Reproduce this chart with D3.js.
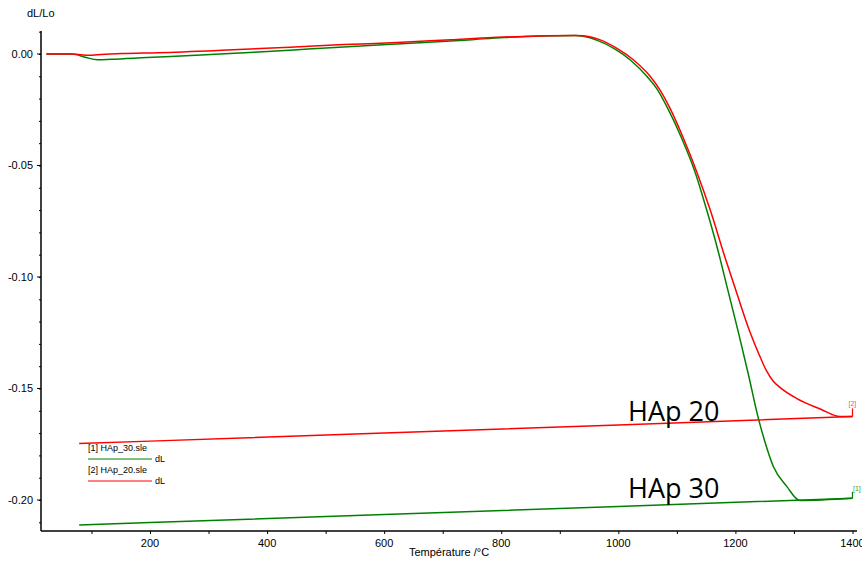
<!DOCTYPE html>
<html><head><meta charset="utf-8">
<script src="https://cdn.jsdelivr.net/npm/d3@7"></script>
<style>
html,body{margin:0;padding:0;background:#fff;}
svg{display:block;font-family:"Liberation Sans",Arial,sans-serif;}
</style></head>
<body>
<svg id="chart" width="862" height="561"></svg>
<script>
// ---------- data ----------
const xTicks = [200, 400, 600, 800, 1000, 1200, 1400];
const yTicks = [0, -0.05, -0.10, -0.15, -0.20];
const yTickLabels = ["0.00", "-0.05", "-0.10", "-0.15", "-0.20"];

// [2] HAp_20 (red) heating
const hap20HeatT = [23, 67, 97, 110, 152, 214, 342, 439, 531, 622, 714, 805, 866, 927, 940, 969, 997, 1026, 1054, 1071, 1088, 1111, 1134, 1157, 1182, 1202, 1225, 1240, 1253, 1264, 1276, 1305, 1345, 1379, 1400];
const hap20HeatV = [0, 0, -0.0006, -0.0003, 0.0002, 0.0006, 0.0019, 0.0030, 0.0042, 0.0051, 0.0064, 0.0076, 0.0081, 0.0083, 0.0082, 0.0063, 0.0026, -0.0027, -0.0099, -0.0161, -0.0242, -0.0377, -0.0529, -0.0700, -0.0910, -0.1070, -0.1248, -0.1345, -0.1420, -0.1465, -0.1495, -0.1545, -0.1592, -0.1626, -0.1626];
// [2] HAp_20 cooling
const hap20CoolT = [1400, 1000, 600, 200, 79];
const hap20CoolV = [-0.1626, -0.1664, -0.1700, -0.1736, -0.1747];
const hap20MarkV = [-0.1626, -0.1589];

// [1] HAp_30 (green) heating
const hap30HeatT = [23, 67, 91, 110, 133, 195, 287, 378, 470, 560, 622, 744, 805, 866, 927, 940, 964, 993, 1021, 1049, 1067, 1084, 1108, 1131, 1151, 1170, 1187, 1205, 1222, 1239, 1251, 1265, 1288, 1310, 1400];
const hap30HeatV = [0, 0, -0.0016, -0.0026, -0.0024, -0.0016, -0.0005, 0.0008, 0.0022, 0.0036, 0.0045, 0.0063, 0.0074, 0.0081, 0.0083, 0.0079, 0.0061, 0.0024, -0.0028, -0.0101, -0.0161, -0.0242, -0.0377, -0.0529, -0.0700, -0.0879, -0.1058, -0.1247, -0.1435, -0.1632, -0.1744, -0.1851, -0.1940, -0.2002, -0.1992];
// [1] HAp_30 cooling
const hap30CoolT = [1400, 1000, 600, 200, 79];
const hap30CoolV = [-0.1992, -0.2029, -0.2065, -0.2101, -0.2112];
const hap30MarkV = [-0.1992, -0.1963];

const markT = 1400;
const legendItems = ["[1] HAp_30.sle", "[2] HAp_20.sle"];
const annotLabels = ["HAp 20", "HAp 30"];
const annotPos = [[1000, -0.1647], [1000, -0.1992]];

const RED = "#ff0000", GREEN = "#008000";

// ---------- scales ----------
const svg = d3.select("#chart");
const x = d3.scaleLinear().domain([13.8, 1407.7]).range([41, 857]);
const y = d3.scaleLinear().domain([0.0103, -0.2139]).range([31, 531]);

// ---------- axes ----------
const gx = svg.append("g").attr("transform", "translate(0,531)");
gx.call(d3.axisBottom(x).tickValues(d3.range(100, 1401, 100)).tickSize(3).tickFormat(""));
gx.select(".domain").attr("stroke-width", 1.5).attr("d", `M41,0H857`);
gx.selectAll(".tick line").attr("stroke", "#000");
gx.selectAll(".xl").data(xTicks).enter().append("text")
  .attr("x", d => x(d)).attr("y", 16).attr("text-anchor", "middle")
  .attr("font-size", 11).attr("fill", "#000").text(d => d);

const gy = svg.append("g").attr("transform", "translate(41,0)");
const minorY = d3.range(1, -22, -1).map(d => d / 100);
gy.call(d3.axisLeft(y).tickValues(minorY).tickSize(2).tickFormat(""));
gy.select(".domain").attr("stroke-width", 1.5).attr("d", `M0,31V531`);
gy.selectAll(".maj").data(yTicks).enter().append("line")
  .attr("x1", -4).attr("x2", 0).attr("y1", d => y(d)).attr("y2", d => y(d)).attr("stroke", "#000");
gy.selectAll(".yl").data(yTicks).enter().append("text")
  .attr("x", -8).attr("y", d => y(d)).attr("dy", "0.35em").attr("text-anchor", "end")
  .attr("font-size", 11).attr("fill", "#000").text((d, i) => yTickLabels[i]);

svg.append("text").attr("x", 27).attr("y", 17).attr("font-size", 11).text("dL/Lo");
svg.append("text").attr("x", 449).attr("y", 556).attr("text-anchor", "middle").attr("font-size", 11).text("Température /°C");

// ---------- lines ----------
const line = d3.line().x(d => x(d[0])).y(d => y(d[1])).curve(d3.curveMonotoneX);
const lin = d3.line().x(d => x(d[0])).y(d => y(d[1]));
const zip = (a, b) => a.map((t, i) => [t, b[i]]);

function series(heatT, heatV, coolT, coolV, markV, color) {
  svg.append("path").attr("d", lin(zip(coolT, coolV))).attr("fill", "none").attr("stroke", color).attr("stroke-width", 1.5);
  svg.append("path").attr("d", line(zip(heatT, heatV))).attr("fill", "none").attr("stroke", color).attr("stroke-width", 1.5);
  svg.append("path").attr("d", lin(markV.map(v => [markT, v]))).attr("fill", "none").attr("stroke", color).attr("stroke-width", 1.2);
}
series(hap30HeatT, hap30HeatV, hap30CoolT, hap30CoolV, hap30MarkV, GREEN);
series(hap20HeatT, hap20HeatV, hap20CoolT, hap20CoolV, hap20MarkV, RED);

svg.append("text").attr("x", x(markT) - 4).attr("y", y(hap20MarkV[1]) - 2).attr("font-size", 7).attr("fill", "#ff5050").text("[2]");
svg.append("text").attr("x", x(markT) + 0.5).attr("y", y(hap30MarkV[1]) - 1).attr("font-size", 7).attr("fill", "#30a030").text("[1]");

// ---------- legend ----------
const leg = svg.append("g").attr("font-size", 9).attr("fill", "#000");
legendItems.forEach((name, i) => {
  const yy = 451 + i * 22;
  leg.append("text").attr("x", 88).attr("y", yy).text(name);
  leg.append("line").attr("x1", 88).attr("x2", 152).attr("y1", yy + 8).attr("y2", yy + 8)
    .attr("stroke", i === 0 ? GREEN : RED).attr("stroke-width", 1.2);
  leg.append("text").attr("x", 155).attr("y", yy + 11).text("dL");
});

// ---------- annotations ----------
annotLabels.forEach((t, i) => {
  svg.append("text").attr("x", 628).attr("y", y(annotPos[i][1]))
    .attr("font-family", "'Open Sans', sans-serif").attr("font-size", 27).attr("fill", "#000").text(t);
});
</script>
</body></html>
